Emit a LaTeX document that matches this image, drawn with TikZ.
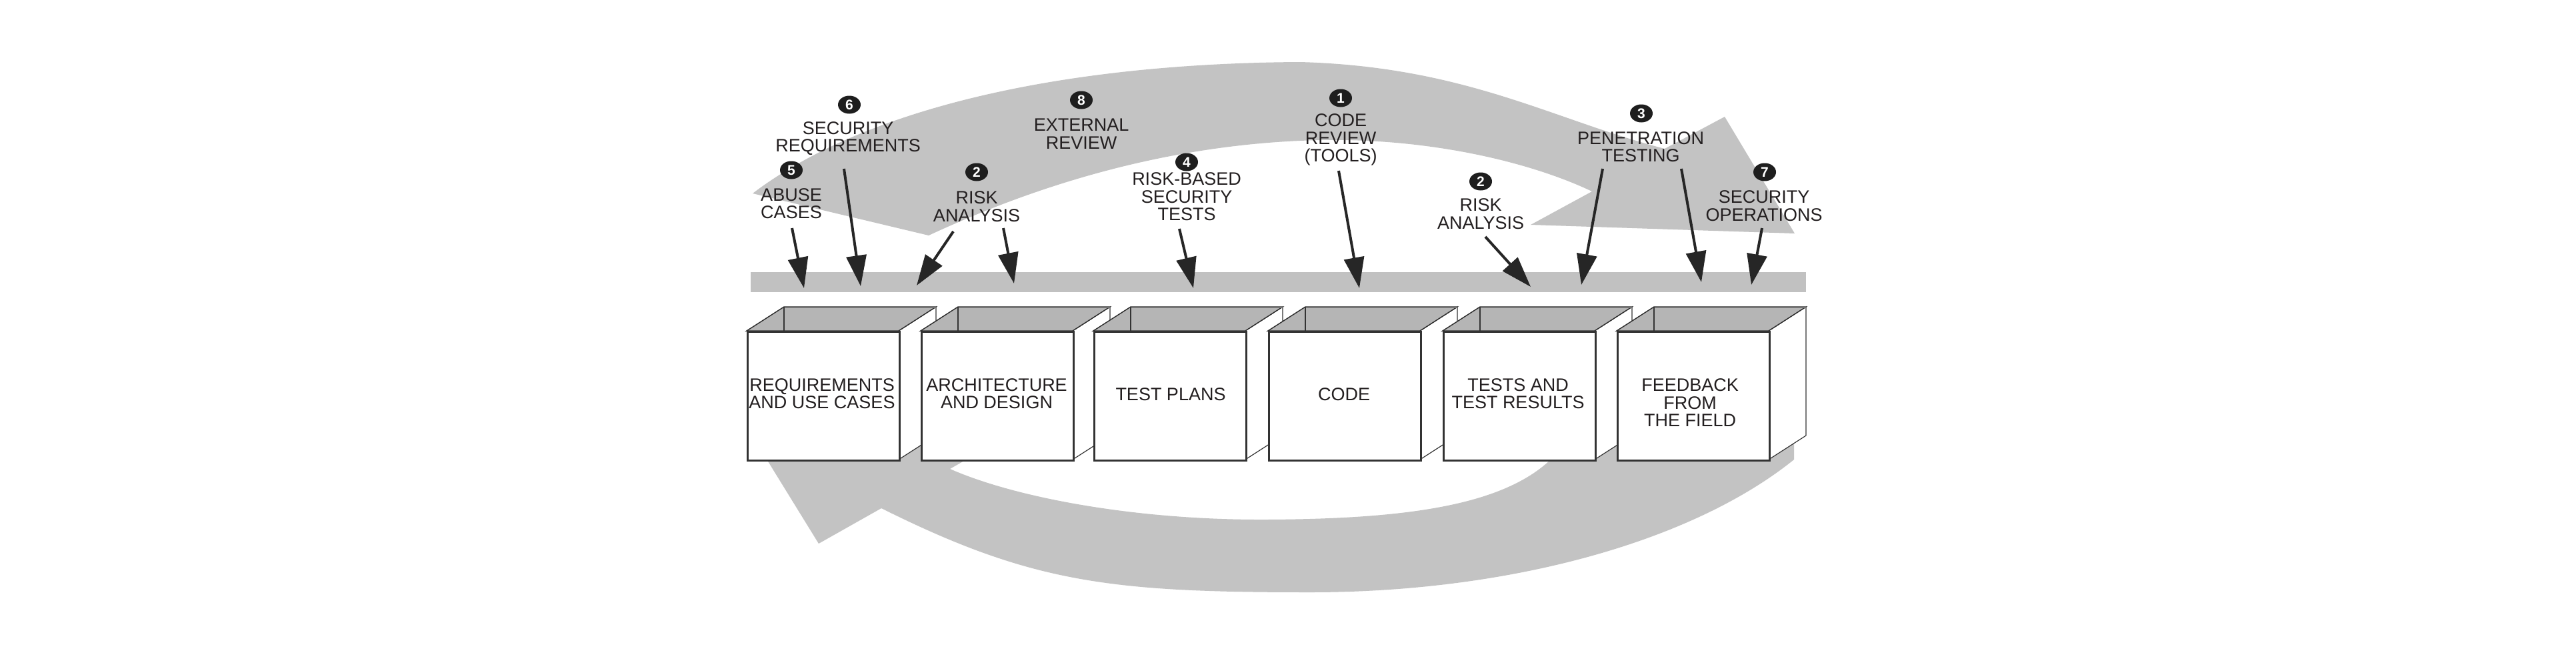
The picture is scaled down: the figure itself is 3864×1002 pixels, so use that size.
\documentclass[tikz,border=0pt]{standalone}
\usepackage{fontspec}
\setmainfont{Liberation Sans}
\usetikzlibrary{arrows.meta,shapes.geometric}
\definecolor{band}{HTML}{C3C3C3}
\definecolor{barc}{HTML}{C1C1C1}
\definecolor{topc}{HTML}{B5B5B5}
\definecolor{edge}{HTML}{333333}
\definecolor{ink}{HTML}{231F20}
\definecolor{arrc}{HTML}{262626}
\definecolor{badgec}{HTML}{1E1E1E}
\begin{document}
\begin{tikzpicture}[x=1pt,y=-1pt,
  lbl/.style={align=center, inner sep=0pt, text=ink, font=\fontsize{27}{26.5}\selectfont},
  badge/.style={ellipse, fill=badgec, text=white, minimum width=34pt, minimum height=27pt, inner sep=0pt, font=\bfseries\fontsize{21}{21}\selectfont},
  arr/.style={draw=arrc, line width=4pt, -{Triangle[length=46pt,width=30pt]}},
  boxfront/.style={draw=edge, fill=white, line width=2.5pt, minimum width=228pt, minimum height=193pt, inner sep=0pt, anchor=north west},
  barstyle/.style={fill=barc, minimum width=1583pt, minimum height=30pt, inner sep=0pt, anchor=north west}
]
\useasboundingbox (0,0) rectangle (3864,1002);
\fill[white] (0,0) rectangle (3864,1002);

% lower return band
\fill[band] (2691,650) -- (2691,689) .. controls (2537,813) and (2262,888) .. (1965,888)
  .. controls (1665,888) and (1547,874) .. (1322,762)
  -- (1228,815) -- (1125,648) -- (1500,660) -- (1425,703)
  .. controls (1520,745) and (1700,780) .. (1900,779)
  .. controls (2100,778) and (2250,760) .. (2325,690)
  -- (2330,600) -- (2652,600) -- cycle;

% upper band with arrowhead
\fill[band] (1129,290) .. controls (1300,160) and (1600,95) .. (1950,93)
  .. controls (2200,100) and (2330,180) .. (2497,223)
  -- (2587,175) -- (2692,350) -- (2296,337) -- (2388,287)
  .. controls (2300,245) and (2150,207) .. (1980,210)
  .. controls (1750,215) and (1550,280) .. (1393,353) -- cycle;

% horizontal bar
\node[barstyle] (bar) at (1126,408) {};

% boxes
\foreach \n/\x in {1/1120,2/1381,3/1640,4/1902,5/2164,6/2425}{
  \filldraw[fill=white, draw=edge, line width=1.2pt] (\x+228,496) -- (\x+284,460) -- (\x+284,653) -- (\x+228,689) -- cycle;
  \filldraw[fill=topc, draw=edge, line width=1.5pt] (\x,496) -- (\x+56,460) -- (\x+284,460) -- (\x+228,496) -- cycle;
  \draw[draw=black!55, line width=3pt] (\x+56,460) -- (\x+284,460);
  \draw[edge, line width=2pt] (\x+56,460) -- (\x+56,496);
  \node[boxfront] (bx\n) at (\x,496) {};
}

\node[lbl] (t1) at (1233,590) {REQUIREMENTS\\AND USE CASES};
\node[lbl] (t2) at (1495,590) {ARCHITECTURE\\AND DESIGN};
\node[lbl] (t3) at (1756,591) {TEST PLANS};
\node[lbl] (t4) at (2016,591) {CODE};
\node[lbl] (t5) at (2277,590) {TESTS AND\\TEST RESULTS};
\node[lbl] (t6) at (2535,604) {FEEDBACK\\FROM\\THE FIELD};

% activity labels
\node[lbl] (l6) at (1272,207.5) {SECURITY\\REQUIREMENTS};
\node[lbl] (l5) at (1187,305) {ABUSE\\CASES};
\node[lbl] (l2a) at (1465,309.5) {RISK\\ANALYSIS};
\node[lbl] (l8) at (1622,200.5) {EXTERNAL\\REVIEW};
\node[lbl] (l4) at (1780,295) {RISK-BASED\\SECURITY\\TESTS};
\node[lbl] (l1) at (2011,209.5) {CODE\\REVIEW\\(TOOLS)};
\node[lbl] (l2b) at (2221,320.5) {RISK\\ANALYSIS};
\node[lbl] (l3) at (2461,220) {PENETRATION\\TESTING};
\node[lbl] (l7) at (2646,308.5) {SECURITY\\OPERATIONS};

% badges
\node[badge] (b6) at (1274,157) {6};
\node[badge] (b5) at (1187,255) {5};
\node[badge] (b2a) at (1465,258) {2};
\node[badge] (b8) at (1622,150) {8};
\node[badge] (b4) at (1780,243) {4};
\node[badge] (b1) at (2011,147) {1};
\node[badge] (b2b) at (2221,272) {2};
\node[badge] (b3) at (2462,170) {3};
\node[badge] (b7) at (2647,258) {7};

% arrow end points
\coordinate (s1) at (1188,342);  \coordinate (e1) at (1206,432);
\coordinate (s2) at (1266,253);  \coordinate (e2) at (1291,429);
\coordinate (s3) at (1430,347);  \coordinate (e3) at (1375,428);
\coordinate (s4) at (1505,342);  \coordinate (e4) at (1521,425);
\coordinate (s5) at (1769,343);  \coordinate (e5) at (1790,432);
\coordinate (s6) at (2008,256);  \coordinate (e6) at (2039,432);
\coordinate (s7) at (2228,355);  \coordinate (e7) at (2296,430);
\coordinate (s8) at (2404,253);  \coordinate (e8) at (2372,427);
\coordinate (s9) at (2522,253);  \coordinate (e9) at (2552,423);
\coordinate (s10) at (2643,342); \coordinate (e10) at (2627,427);
\foreach \i in {1,...,10}{\draw[arr] (s\i) -- (e\i);}
\end{tikzpicture}
\end{document}
